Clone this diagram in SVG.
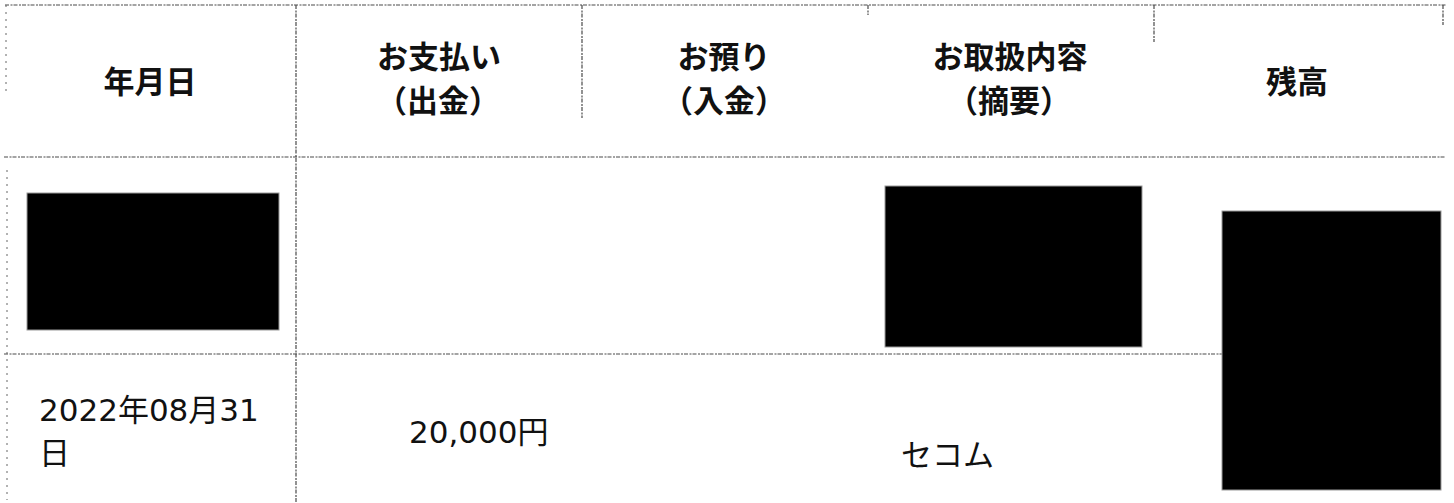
<svg xmlns="http://www.w3.org/2000/svg" width="1454" height="503" viewBox="0 0 1454 503">
  <style>
    .grid { stroke: #4a4a4a; stroke-width: 1.2; fill: none; stroke-dasharray: 4 1.5 2 1; }
    .sparse { stroke: #666; stroke-width: 1; fill: none; stroke-dasharray: 2 5; }
    .hd { font-family: "Noto Sans CJK JP", "Noto Sans", sans-serif; font-weight: 700; font-size: 31px; fill: #111; text-anchor: middle; }
    .bd { font-family: "DejaVu Sans", "Noto Sans CJK JP", sans-serif; font-weight: 400; font-size: 31px; fill: #111; }
    .mask { fill: #000; stroke: #9a9a9a; stroke-width: 1; }
  </style>
  <rect x="0" y="0" width="1454" height="503" fill="#fff"/>

  <g id="connectors">
    <line class="grid" x1="5" y1="5" x2="1446" y2="5"/>
    <line class="grid" x1="4" y1="157" x2="1446" y2="157"/>
    <line class="grid" x1="4" y1="354" x2="1222" y2="354"/>
    <line class="grid" x1="296" y1="5" x2="296" y2="503"/>
    <line class="grid" x1="582" y1="5" x2="582" y2="118"/>
    <line class="grid" x1="868" y1="5" x2="868" y2="15"/>
    <line class="grid" x1="1154" y1="5" x2="1154" y2="42"/>
    <line class="grid" x1="1443" y1="5" x2="1443" y2="25"/>
    <line class="sparse" x1="6" y1="5" x2="6" y2="95"/>
    <line class="sparse" x1="7" y1="170" x2="7" y2="500"/>
  </g>

  <g id="h-date"><text class="hd" x="150" y="93">年月日</text></g>
  <g id="h-payment">
    <text class="hd" x="439" y="68">お支払い</text>
    <text class="hd" x="438" y="112">（出金）</text>
  </g>
  <g id="h-deposit">
    <text class="hd" x="724" y="68">お預り</text>
    <text class="hd" x="724" y="112">（入金）</text>
  </g>
  <g id="h-content">
    <text class="hd" x="1010" y="68">お取扱内容</text>
    <text class="hd" x="1009" y="112">（摘要）</text>
  </g>
  <g id="h-balance"><text class="hd" x="1297" y="93">残高</text></g>

  <g id="mask-date"><rect class="mask" x="27" y="193" width="252" height="137"/></g>
  <g id="mask-content"><rect class="mask" x="885" y="186" width="257" height="161"/></g>
  <g id="mask-balance"><rect class="mask" x="1222" y="211" width="219" height="279"/></g>

  <g id="r2-date">
    <text class="bd" x="39" y="421">2022年08月31</text>
    <text class="bd" x="39" y="464">日</text>
  </g>
  <g id="r2-payment"><text class="bd" x="409" y="443">20,000円</text></g>
  <g id="r2-content"><text class="bd" x="901" y="466">セコム</text></g>
</svg>
